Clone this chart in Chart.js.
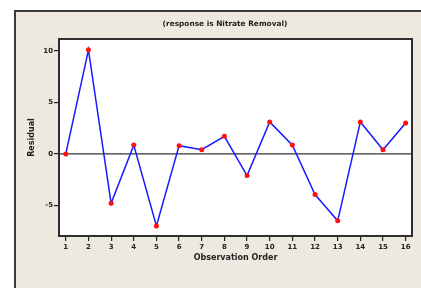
<!DOCTYPE html>
<html>
<head>
<meta charset="utf-8">
<script src="https://cdn.jsdelivr.net/npm/chart.js@4"></script>
<style>
    body { margin: 0; background: #ffffff; }
    #panel {
        position: absolute; left: 14px; top: 10px; width: 420px; height: 290px;
        background: #ede9e0; border: 2px solid #3a3a3a; box-sizing: border-box;
    }
    #wrap { position: absolute; left: 0; top: 0; width: 421px; height: 288px; }
</style>
</head>
<body>
<div id="panel"></div>
<div id="wrap"><canvas id="residualChart" width="421" height="288"></canvas></div>
<script>
// Residuals versus observation order
const observations = [1, 2, 3, 4, 5, 6, 7, 8, 9, 10, 11, 12, 13, 14, 15, 16];
const residuals = [0.0, 10.1, -4.8, 0.85, -7.0, 0.8, 0.4, 1.7, -2.1, 3.1, 0.85, -3.95, -6.5, 3.1, 0.4, 3.0];
const yTicks = [-5, 0, 5, 10];

const chartTitle = '(response is Nitrate Removal)';
const xTitle = 'Observation Order';
const yTitle = 'Residual';

const labelFont = { family: 'DejaVu Sans', size: 7, weight: 'bold' };

// white plot area, frame, zero line and the text
const framePlugin = {
    id: 'frame',
    beforeDatasetsDraw(chart) {
        const { ctx, chartArea: a, scales } = chart;
        ctx.save();
        const y0 = scales.y.getPixelForValue(0);
        ctx.strokeStyle = '#333333';
        ctx.lineWidth = 1.2;
        ctx.beginPath();
        ctx.moveTo(a.left, y0);
        ctx.lineTo(a.right, y0);
        ctx.stroke();
        ctx.restore();
    },
    beforeDraw(chart) {
        const { ctx, chartArea: a } = chart;
        ctx.save();
        ctx.fillStyle = '#ffffff';
        ctx.fillRect(a.left, a.top, a.right - a.left, a.bottom - a.top);
        ctx.restore();
    },
    afterDraw(chart) {
        const { ctx, chartArea: a } = chart;
        ctx.save();
        ctx.strokeStyle = '#2e2e2e';
        ctx.lineWidth = 2;
        ctx.strokeRect(a.left, a.top, a.right - a.left, a.bottom - a.top);

        ctx.fillStyle = '#222222';
        ctx.font = 'bold 7.4px "DejaVu Sans"';
        ctx.textAlign = 'center';
        ctx.textBaseline = 'middle';
        ctx.fillText(chartTitle, 225, 24);
        ctx.font = 'bold 8px "DejaVu Sans"';
        ctx.fillText(xTitle, (a.left + a.right) / 2, 258);
        ctx.translate(32, (a.top + a.bottom) / 2);
        ctx.rotate(-Math.PI / 2);
        ctx.fillText(yTitle, 0, 0);
        ctx.restore();
    }
};

const ctx = document.getElementById('residualChart').getContext('2d');
const residualChart = new Chart(ctx, {
    type: 'line',
    data: {
        datasets: [{
            data: observations.map((o, i) => ({ x: o, y: residuals[i] })),
            borderColor: '#1a1aff',
            borderWidth: 1.5,
            pointBackgroundColor: '#ff1010',
            pointBorderWidth: 0,
            pointRadius: 2.5,
            tension: 0
        }]
    },
    options: {
        responsive: false,
        animation: false,
        layout: { padding: { top: 39, right: 9, left: 0, bottom: 0 } },
        plugins: {
            legend: { display: false },
            tooltip: { enabled: false }
        },
        scales: {
            x: {
                type: 'linear',
                min: 0.7,
                max: 16.28,
                afterFit: scale => { scale.height = 52; },
                afterBuildTicks: scale => { scale.ticks = observations.map(v => ({ value: v })); },
                border: { display: false },
                grid: { drawOnChartArea: false, tickLength: 5, color: '#222222', lineWidth: 1.2 },
                ticks: {
                    font: labelFont,
                    color: '#222222',
                    padding: 2,
                    maxRotation: 0,
                    autoSkip: false
                }
            },
            y: {
                min: -7.97,
                max: 11.15,
                afterFit: scale => { scale.width = 59; },
                afterBuildTicks: scale => { scale.ticks = yTicks.map(v => ({ value: v })); },
                border: { display: false },
                grid: { drawOnChartArea: false, tickLength: 5, color: '#222222', lineWidth: 1.2 },
                ticks: {
                    font: labelFont,
                    color: '#222222',
                    padding: 1
                }
            }
        }
    },
    plugins: [framePlugin]
});
</script>
</body>
</html>
